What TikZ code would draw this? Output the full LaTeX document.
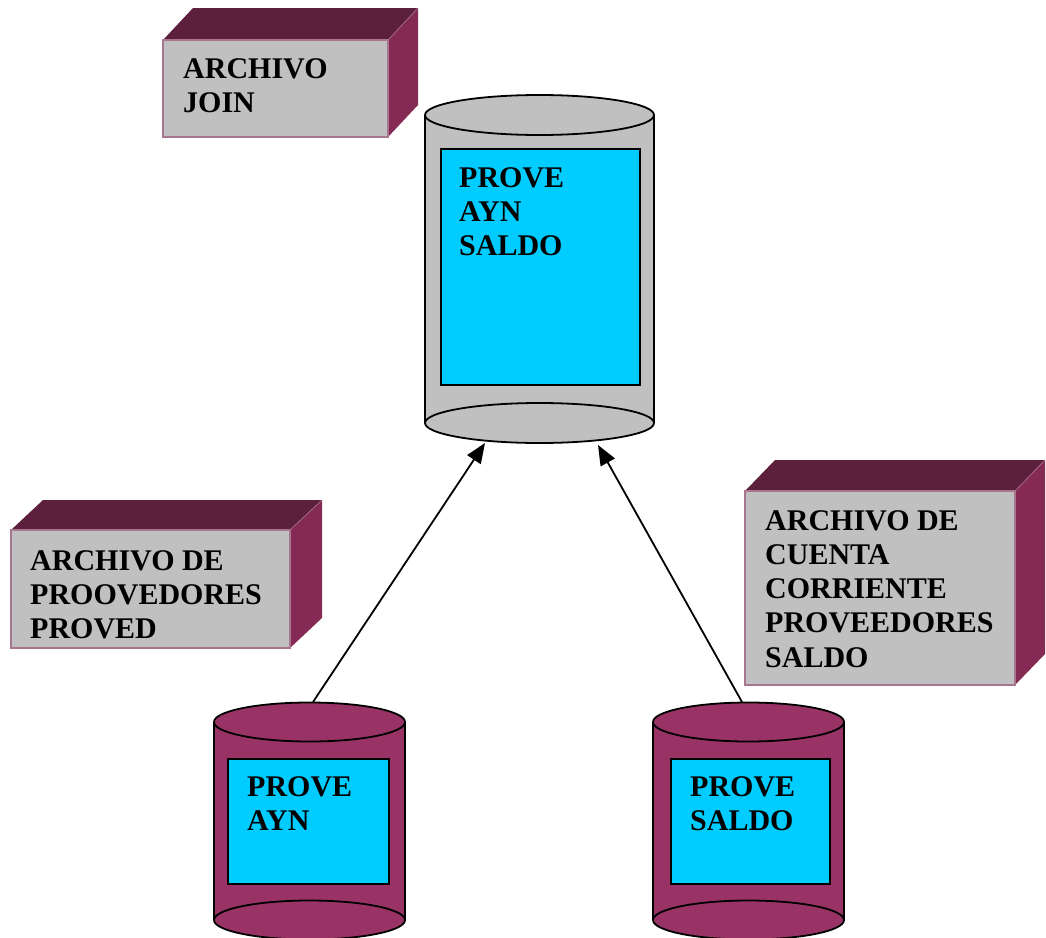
\documentclass[tikz,border=0pt]{standalone}
\usepackage{fontspec}
\setmainfont{Liberation Serif}
\usetikzlibrary{arrows.meta}
\definecolor{boxfront}{HTML}{C0C0C0}
\definecolor{boxedge}{HTML}{A8778F}
\definecolor{boxtop}{HTML}{5C1F3C}
\definecolor{boxside}{HTML}{852A55}
\definecolor{cylgray}{HTML}{C0C0C0}
\definecolor{cylpurple}{HTML}{993366}
\definecolor{panel}{HTML}{00CCFF}
\tikzset{
  lbl/.style={anchor=north west, inner sep=0pt, align=left,
    font=\fontsize{30}{34.3}\selectfont\bfseries},
  panelbox/.style={draw=black, line width=1.8pt, fill=panel},
  cylline/.style={draw=black, line width=1.8pt},
  flow/.style={draw=black, line width=1.8pt, -{Triangle[length=20pt,width=16pt]}},
  front/.style={fill=boxfront, draw=boxedge, line width=2pt},
}
% 3D box: #1 left, #2 top, #3 right, #4 bottom, #5 dx, #6 dy
\newcommand{\mybox}[6]{%
  \fill[boxtop] (#1,#2) -- (#1+#5,#2-#6) -- (#3+#5,#2-#6) -- (#3,#2) -- cycle;
  \fill[boxside] (#3,#2) -- (#3+#5,#2-#6) -- (#3+#5,#4-#6) -- (#3,#4) -- cycle;
  \draw[boxedge, line width=0.6pt] (#3,#2) -- (#3+#5,#2-#6);
  \draw[front] (#1,#2) rectangle (#3,#4);
}
% cylinder: #1 left, #2 right, #3 top centre y, #4 bottom centre y, #5 ry, #6 fill
\newcommand{\mycyl}[6]{%
  \fill[#6] (#1,#3) rectangle (#2,#4);
  \filldraw[#6, cylline] ({(#1+#2)/2},#4) ellipse [x radius={(#2-#1)/2*1pt}, y radius=#5pt];
  \draw[cylline] (#1,#3) -- (#1,#4) (#2,#3) -- (#2,#4);
  \filldraw[#6, cylline] ({(#1+#2)/2},#3) ellipse [x radius={(#2-#1)/2*1pt}, y radius=#5pt];
}
\begin{document}
\begin{tikzpicture}[x=1pt,y=-1pt]
\useasboundingbox (0,0) rectangle (1046,937);
\clip (0,0) rectangle (1046,937);

% 3D labels
\mybox{163}{40}{388}{137}{30}{32}
\node[lbl] (joinlbl) at (183,58) {ARCHIVO\\JOIN};
\mybox{11}{530}{290}{648}{32}{30}
\node[lbl] (provlbl) at (30,550) {ARCHIVO DE\\PROOVEDORES\\PROVED};
\mybox{745}{491}{1015}{685}{30}{31}
\node[lbl] (ctalbl) at (765,510) {ARCHIVO DE\\CUENTA\\CORRIENTE\\PROVEEDORES\\SALDO};

% top cylinder (JOIN)
\mycyl{425}{654}{115}{423}{20}{cylgray}
\node[panelbox, minimum width=199pt, minimum height=236pt, anchor=north west, inner sep=0pt] (joinpanel) at (440,148) {};
\node[lbl] (jointxt) at (459,167) {PROVE\\AYN\\SALDO};

% bottom left cylinder
\mycyl{214}{405}{722}{920}{19.5}{cylpurple}
\node[panelbox, minimum width=161pt, minimum height=125pt, anchor=north west, inner sep=0pt] (aynpanel) at (227,758) {};
\node[lbl] (ayntxt) at (247,776) {PROVE\\AYN};

% bottom right cylinder
\mycyl{653}{844}{722}{920}{19.5}{cylpurple}
\node[panelbox, minimum width=159pt, minimum height=125pt, anchor=north west, inner sep=0pt] (saldopanel) at (670,758) {};
\node[lbl] (saldotxt) at (690,776) {PROVE\\SALDO};

% connectors
\coordinate (aynTop) at (313,702);
\coordinate (saldoTop) at (742,702);
\coordinate (joinInL) at (485,443);
\coordinate (joinInR) at (598,445);
\draw[flow] (aynTop) -- (joinInL);
\draw[flow] (saldoTop) -- (joinInR);
\end{tikzpicture}
\end{document}
